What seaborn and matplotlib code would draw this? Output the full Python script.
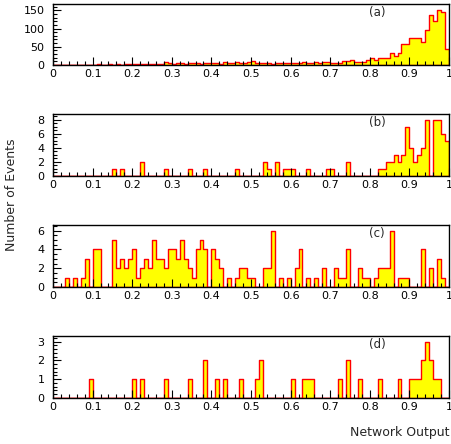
import numpy as np
import pandas as pd
import matplotlib
matplotlib.use("Agg")
import matplotlib.pyplot as plt
from matplotlib.ticker import MultipleLocator, FixedLocator
import seaborn as sns

# 100 bins of network output between 0 and 1
n_bins = 100
bin_centers = (np.arange(n_bins) + 0.5) / n_bins

counts_a = [0, 0, 0, 0, 1, 0, 1, 1, 0, 1,
            1, 2, 1, 1, 2, 1, 2, 1, 2, 2,
            2, 3, 2, 3, 2, 3, 4, 3, 8, 5,
            4, 5, 6, 4, 5, 5, 6, 4, 5, 6,
            5, 6, 4, 7, 5, 6, 7, 5, 6, 9,
            11, 6, 5, 5, 5, 4, 5, 6, 5, 5,
            6, 5, 6, 7, 6, 6, 7, 6, 8, 7,
            6, 6, 6, 11, 11, 14, 8, 8, 8, 13,
            20, 14, 18, 18, 20, 34, 25, 34, 57, 57,
            73, 73, 73, 62, 96, 136, 120, 152, 145, 45]

counts_b = [0, 0, 0, 0, 0, 0, 0, 0, 0, 0,
            0, 0, 0, 0, 0, 1, 0, 1, 0, 0,
            0, 0, 2, 0, 0, 0, 0, 0, 1, 0,
            0, 0, 0, 0, 1, 0, 0, 0, 1, 0,
            0, 0, 0, 0, 0, 0, 1, 0, 0, 0,
            0, 0, 0, 2, 1, 0, 2, 0, 1, 1,
            1, 0, 0, 0, 1, 0, 0, 0, 0, 1,
            1, 0, 0, 0, 2, 0, 0, 0, 0, 0,
            0, 0, 1, 1, 2, 2, 3, 2, 3, 7,
            4, 2, 3, 4, 8, 0, 8, 8, 6, 5]

counts_c = [0, 0, 0, 1, 0, 1, 0, 1, 3, 0,
            4, 4, 0, 0, 0, 5, 2, 3, 2, 3,
            4, 1, 2, 3, 2, 5, 3, 3, 2, 4,
            4, 3, 5, 3, 2, 1, 4, 5, 4, 0,
            4, 3, 2, 0, 1, 0, 1, 2, 2, 1,
            1, 0, 0, 2, 2, 6, 0, 1, 0, 1,
            0, 2, 4, 0, 1, 0, 1, 0, 2, 0,
            0, 2, 1, 1, 4, 0, 0, 2, 1, 1,
            0, 1, 2, 2, 2, 6, 0, 1, 1, 1,
            0, 0, 0, 4, 0, 2, 0, 3, 1, 0]

counts_d = [0, 0, 0, 0, 0, 0, 0, 0, 0, 1,
            0, 0, 0, 0, 0, 0, 0, 0, 0, 0,
            1, 0, 1, 0, 0, 0, 0, 0, 1, 0,
            0, 0, 0, 0, 1, 0, 0, 0, 2, 0,
            0, 1, 0, 1, 0, 0, 0, 1, 0, 0,
            0, 1, 2, 0, 0, 0, 0, 0, 0, 0,
            1, 0, 0, 1, 1, 1, 0, 0, 0, 0,
            0, 0, 1, 0, 2, 0, 0, 1, 0, 0,
            0, 0, 1, 0, 0, 0, 0, 1, 0, 0,
            1, 1, 1, 2, 3, 2, 1, 1, 0, 0]

panel_tags = ["(a)", "(b)", "(c)", "(d)"]
y_major = [50, 2, 2, 1]
y_minor = [10, 0.5, 0.5, 0.2]
x_tick_values = [0, 0.1, 0.2, 0.3, 0.4, 0.5, 0.6, 0.7, 0.8, 0.9, 1.0]
x_tick_labels = ["0", "0.1", "0.2", "0.3", "0.4", "0.5", "0.6", "0.7", "0.8", "0.9", "1"]

sns.set_style("white")
plt.rcParams["font.family"] = ["DejaVu Sans"]

fig = plt.figure(figsize=(4.51, 4.44), dpi=100)

W, H = 451.0, 444.0
left_px, right_px = 53.0, 449.0
panel_px = [(4, 65), (114, 176), (225, 287), (336, 398)]

all_counts = [counts_a, counts_b, counts_c, counts_d]

for counts, tag, (top_px, bot_px), ymaj, ymin in zip(
        all_counts, panel_tags, panel_px, y_major, y_minor):
    ax = fig.add_axes([left_px / W, 1 - bot_px / H,
                       (right_px - left_px) / W, (bot_px - top_px) / H])
    df = pd.DataFrame({"output": bin_centers, "events": counts})
    sns.histplot(data=df, x="output", weights="events", bins=n_bins,
                 binrange=(0.0, 1.0), element="step", fill=True,
                 facecolor="#ffff00", edgecolor="#ff0000", linewidth=1.0,
                 ax=ax)
    ax.set_xlim(0, 1)
    ax.set_ylim(0, 1.1 * max(counts))
    ax.set_xlabel("")
    ax.set_ylabel("")
    ax.xaxis.set_major_locator(FixedLocator(x_tick_values))
    ax.set_xticklabels(x_tick_labels)
    ax.xaxis.set_minor_locator(MultipleLocator(0.02))
    ax.yaxis.set_major_locator(MultipleLocator(ymaj))
    ax.yaxis.set_minor_locator(MultipleLocator(ymin))
    ax.tick_params(axis="both", which="both", direction="in",
                   bottom=True, left=True, top=False, right=False,
                   colors="black", labelsize=8, zorder=5)
    ax.tick_params(axis="x", which="major", length=6, width=0.8, pad=3)
    ax.tick_params(axis="x", which="minor", length=3, width=0.8)
    ax.tick_params(axis="y", which="major", length=6, width=0.8, pad=6)
    ax.tick_params(axis="y", which="minor", length=3, width=0.8)
    for sp in ax.spines.values():
        sp.set_color("black")
        sp.set_linewidth(1.0)
        sp.set_zorder(6)
    ax.set_axisbelow(False)
    ax.text(0.818, 0.86, tag, transform=ax.transAxes, ha="center",
            va="center", fontsize=8.5)

fig.text(12 / W, 1 - 195 / H, "Number of Events", rotation=90,
         ha="center", va="center", fontsize=9)
fig.text(right_px / W, 1 - 432 / H, "Network Output", ha="right",
         va="center", fontsize=9)

fig.savefig("out.png", dpi=100)
